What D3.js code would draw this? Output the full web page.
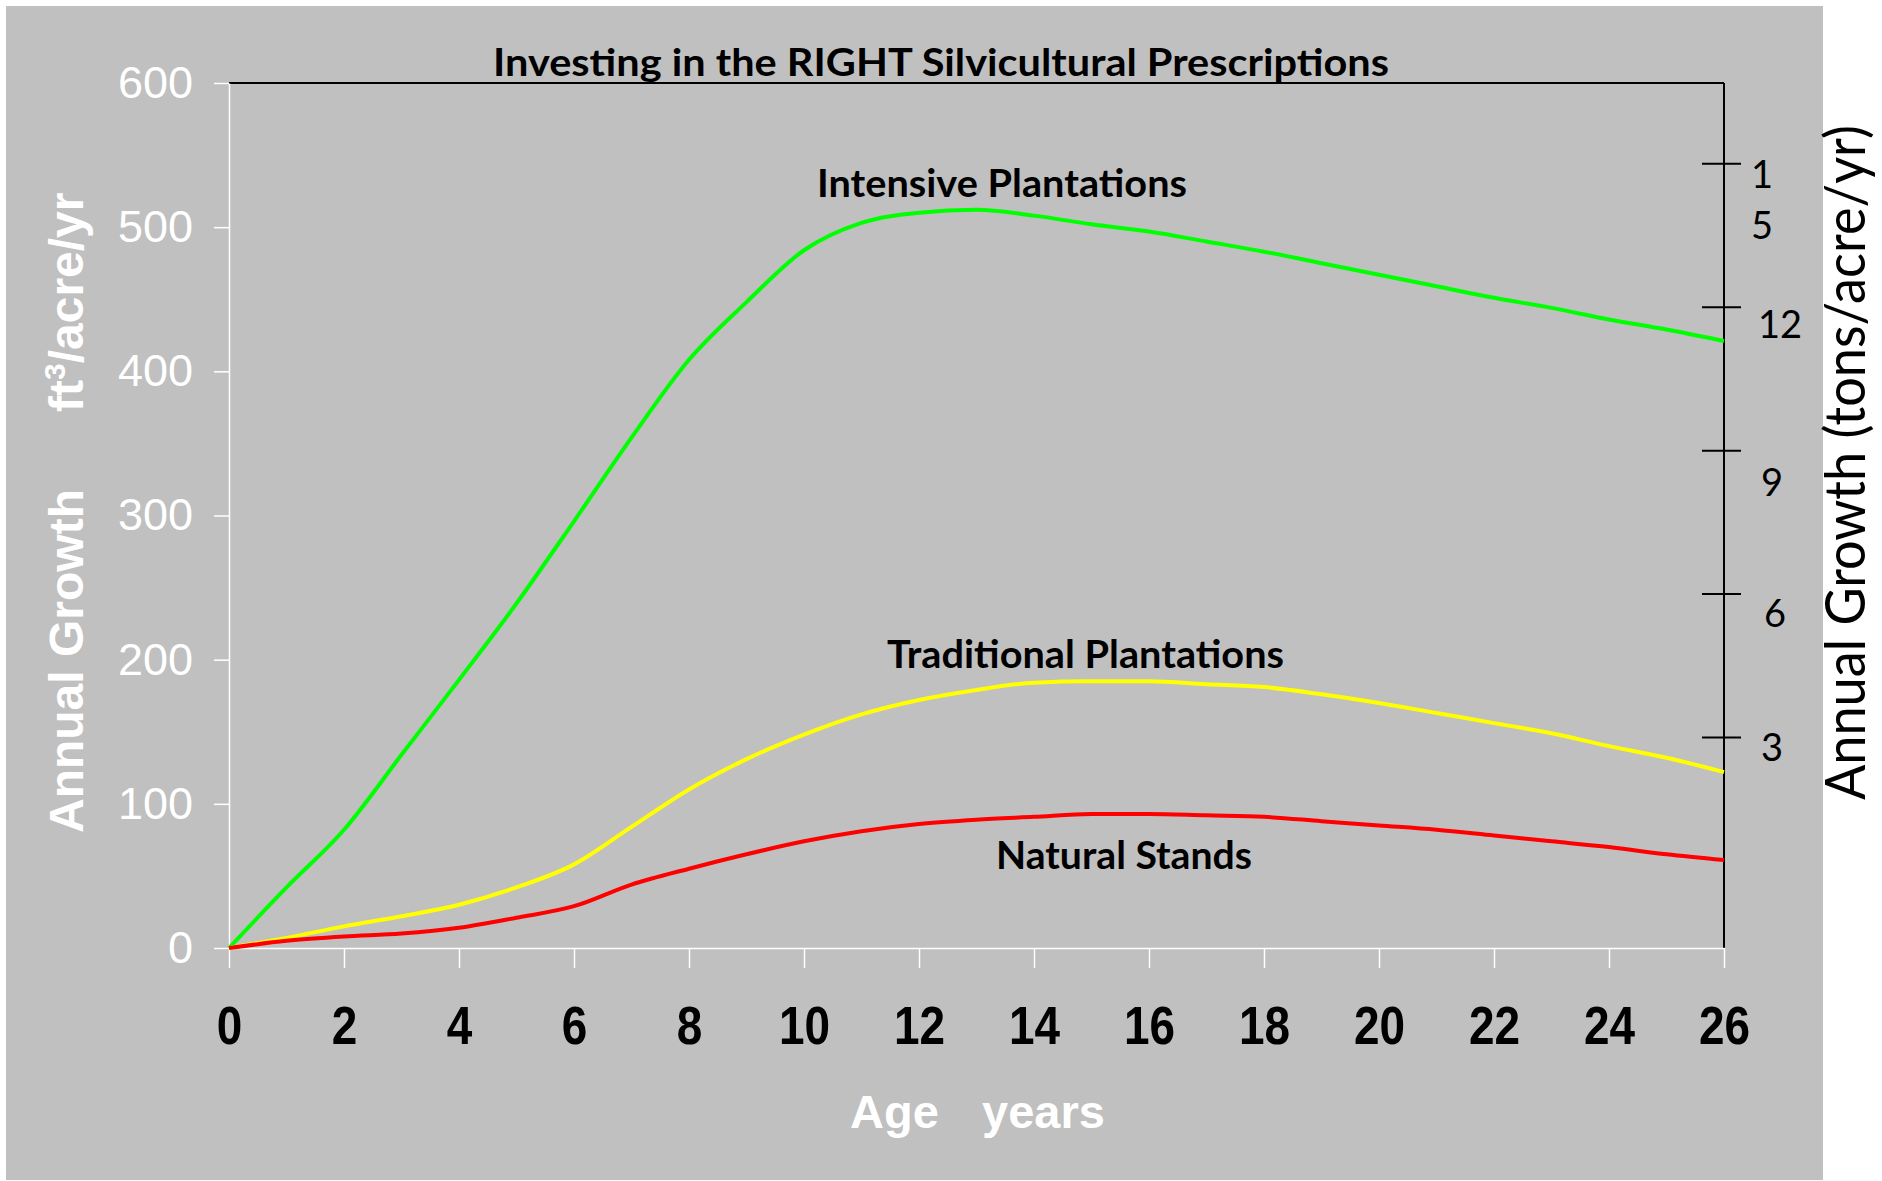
<!DOCTYPE html>
<html>
<head>
<meta charset="utf-8">
<script src="https://cdn.jsdelivr.net/npm/d3@7"></script>
<style>
	html, body { margin: 0; padding: 0; background: #fff; }
	svg { display: block; }
</style>
</head>
<body>
<svg id="svgChart"></svg>
<script>
// Chart data
var ages = [0, 1, 2, 3, 4, 5, 6, 7, 8, 9, 10, 11, 12, 13, 14, 15, 16, 17, 18, 19, 20, 21, 22, 23, 24, 25, 26];
var intensive = [0, 42, 82, 134, 186, 239, 296, 354, 408, 448, 484, 503, 510, 512, 508, 502, 497, 490, 483, 475, 467, 459, 451, 444, 436, 429, 421];
var traditional = [0, 7, 15, 22, 30, 42, 58, 84, 110, 131, 148, 162, 172, 179, 184, 185, 185, 183, 181, 176, 170, 163, 156, 149, 140, 132, 122];
var natural = [0, 5, 8, 10, 14, 21, 29, 44, 55, 65, 74, 81, 86, 89, 91, 93, 93, 92, 91, 88, 85, 82, 78, 74, 70, 65, 61];
var seriesNames = ["Intensive Plantations", "Traditional Plantations", "Natural Stands"];
var seriesColors = ["#00ff00", "#ffff00", "#ff0000"];
var xTicks = [0, 2, 4, 6, 8, 10, 12, 14, 16, 18, 20, 22, 24, 26];
var yTicks = [0, 100, 200, 300, 400, 500, 600];
// right hand scale, tons/acre/yr (tick 15 is written as "1" over "5")
var tonTicks = [15, 12, 9, 6, 3];
var tonLabels = [["1", "5"], ["12"], ["9"], ["6"], ["3"]];

// Init parameters
var chart = { "width": 1882, "height": 1181 };

chart.draw = () => {
	let svg = d3.select("#svgChart")
		.attr("width", chart.width)
		.attr("height", chart.height);

	// Plot frame
	let left = 229, right = 1724, top = 83, bottom = 948;

	// Grey backdrop
	svg.append("rect")
		.attr("x", 6).attr("y", 6)
		.attr("width", 1823 - 6).attr("height", 1180 - 6)
		.attr("fill", "#c0c0c0");

	// Scales
	let x = d3.scaleLinear().domain([0, 26]).range([left, right]);
	let y = d3.scaleLinear().domain([0, 600]).range([bottom, top]);
	// tons ticks sit on the ft3 scale at roughly 146..544
	let tons = d3.scaleLinear().domain([3, 15]).range([y(146), y(544)]);

	// Top border and right axis (black)
	svg.append("line")
		.attr("x1", left).attr("x2", right)
		.attr("y1", top).attr("y2", top)
		.attr("stroke", "#000").attr("stroke-width", 2);
	svg.append("line")
		.attr("x1", right).attr("x2", right)
		.attr("y1", top).attr("y2", bottom)
		.attr("stroke", "#000").attr("stroke-width", 2);

	// Left axis (white)
	let gy = svg.append("g")
		.attr("transform", "translate(" + left + ",0)")
		.call(d3.axisLeft(y).tickValues(yTicks).tickSize(15).tickSizeOuter(0).tickPadding(21));
	gy.select(".domain").attr("stroke", "#fff").attr("stroke-width", 1.5);
	gy.selectAll(".tick line").attr("stroke", "#fff").attr("stroke-width", 1.5);
	gy.selectAll(".tick text")
		.attr("fill", "#fff")
		.style("font-family", "'Liberation Sans', Arial, sans-serif")
		.style("font-size", "45px");

	// Bottom axis (white), narrow bold labels
	let gx = svg.append("g")
		.attr("transform", "translate(0," + bottom + ")")
		.call(d3.axisBottom(x).tickValues(xTicks).tickSize(20).tickSizeOuter(0).tickPadding(38));
	gx.select(".domain").attr("stroke", "#fff").attr("stroke-width", 1.5);
	gx.selectAll(".tick line").attr("stroke", "#fff").attr("stroke-width", 1.5);
	gx.selectAll(".tick text")
		.attr("fill", "#000")
		.attr("transform", "scale(0.85,1)")
		.style("font-family", "'Liberation Sans', Arial, sans-serif")
		.style("font-weight", "bold")
		.style("font-size", "54px");

	// Right axis ticks
	svg.selectAll(".tonTick")
		.data(tonTicks)
		.enter()
		.append("line")
		.attr("class", "tonTick")
		.attr("x1", right - 22).attr("x2", right + 17)
		.attr("y1", (d) => tons(d)).attr("y2", (d) => tons(d))
		.attr("stroke", "#000").attr("stroke-width", 2);

	// Right axis labels, hand placed below their ticks
	let nudge = [[38, 24, 75], [56, 31], [48, 45], [51, 33], [48, 23]];
	tonTicks.forEach((t, i) => {
		tonLabels[i].forEach((lbl, j) => {
			svg.append("text")
				.attr("x", right + nudge[i][0])
				.attr("y", tons(t) + (j == 0 ? nudge[i][1] : nudge[i][2]))
				.attr("text-anchor", "middle")
				.style("font-family", "Lato, 'Open Sans', sans-serif")
				.style("font-size", "38px")
				.attr("fill", "#000")
				.text(lbl);
		});
	});

	// Lines
	let line = d3.line()
		.x((d) => x(d[0]))
		.y((d) => y(d[1]))
		.curve(d3.curveMonotoneX);
	let allSeries = [intensive, traditional, natural];
	allSeries.forEach((vals, i) => {
		svg.append("path")
			.datum(ages.map((a, k) => [a, vals[k]]))
			.attr("fill", "none")
			.attr("stroke", seriesColors[i])
			.attr("stroke-width", 4)
			.attr("stroke-linejoin", "round")
			.attr("d", line);
	});

	// Curve labels
	let labelPos = [[817, 197, 370], [887, 668, 397], [996, 869, 256]];
	seriesNames.forEach((name, i) => {
		svg.append("text")
			.attr("x", labelPos[i][0])
			.attr("y", labelPos[i][1])
			.attr("textLength", labelPos[i][2])
			.attr("lengthAdjust", "spacingAndGlyphs")
			.style("font-family", "Lato, 'Open Sans', sans-serif")
			.style("font-weight", "bold")
			.style("font-size", "39px")
			.attr("fill", "#000")
			.text(name);
	});

	// Title
	svg.append("text")
		.attr("x", 493)
		.attr("y", 76)
		.attr("textLength", 896)
		.attr("lengthAdjust", "spacingAndGlyphs")
		.style("font-family", "Lato, 'Open Sans', sans-serif")
		.style("font-weight", "bold")
		.style("font-size", "38px")
		.attr("fill", "#000")
		.text("Investing in the RIGHT Silvicultural Prescriptions");

	// X title
	let xt = svg.append("text")
		.attr("x", 850)
		.attr("y", 1128)
		.style("font-family", "'Liberation Sans', Arial, sans-serif")
		.style("font-weight", "bold")
		.style("font-size", "47px")
		.attr("fill", "#fff");
	xt.append("tspan").text("Age");
	xt.append("tspan").attr("x", 982).text("years");

	// Left Y title
	let yt = svg.append("text")
		.attr("transform", "translate(83,833) rotate(-90)")
		.style("font-family", "'Liberation Sans', Arial, sans-serif")
		.style("font-weight", "bold")
		.style("font-size", "48px")
		.attr("fill", "#fff");
	yt.append("tspan").text("Annual Growth");
	yt.append("tspan").attr("x", 421).text("ft");
	yt.append("tspan").attr("dy", -18).style("font-size", "30px").text("3");
	yt.append("tspan").attr("dy", 18).text("/acre/yr");

	// Right Y title
	svg.append("text")
		.attr("transform", "translate(1865,800) rotate(-90)")
		.attr("textLength", 675)
		.attr("lengthAdjust", "spacingAndGlyphs")
		.style("font-family", "Lato, 'Open Sans', sans-serif")
		.style("font-size", "56px")
		.attr("fill", "#000")
		.text("Annual Growth (tons/acre/yr)");
}

chart.draw();
</script>
</body>
</html>
